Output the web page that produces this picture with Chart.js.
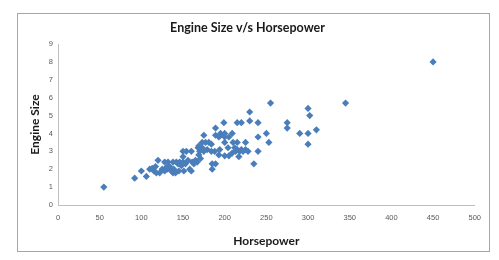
<!DOCTYPE html>
<html>
<head>
<meta charset="utf-8">
<script src="https://cdn.jsdelivr.net/npm/chart.js@4/dist/chart.umd.min.js"></script>
<style>
  html, body { margin: 0; padding: 0; background: #ffffff; }
  #box { position: absolute; left: 17px; top: 13px; width: 471px; height: 237px; border: 1px solid #a6a6a6; background: #fff; }
  canvas { display: block; }
</style>
</head>
<body>
<div id="box"><canvas id="c" width="471" height="237"></canvas></div>
<script>
const chartTitle = "Engine Size v/s Horsepower";
const xTitle = "Horsepower";
const yTitle = "Engine Size";
const xTicks = [0, 50, 100, 150, 200, 250, 300, 350, 400, 450, 500];
const yTicks = [0, 1, 2, 3, 4, 5, 6, 7, 8, 9];

const horsepower = [
  55, 92, 100, 106, 110, 113, 115, 117, 120, 122, 125, 128, 131, 134, 136, 139, 141, 144, 148, 151,
  153, 160, 161, 165, 167, 150, 154, 160, 169, 173, 177, 181, 175, 189, 189, 193, 195, 199, 215, 220,
  209, 185, 185, 189, 200, 205, 200, 210, 215, 184, 168, 173, 204, 194, 184, 170, 175, 200, 205, 209,
  193, 188, 217, 169, 171, 150, 150, 142, 138, 132, 128, 255, 345, 450, 300, 302, 230, 230, 240, 275,
  275, 250, 290, 300, 310, 240, 253, 300, 240, 235, 215, 218, 220, 222, 225, 228, 212, 213, 195, 130,
  118, 145, 156, 179, 200, 225, 163, 158, 138, 146
];
const engineSize = [
  1.0, 1.5, 1.9, 1.6, 2.0, 2.05, 1.9, 2.15, 2.5, 1.8, 2.0, 1.9, 2.0, 2.15, 1.9, 2.0, 1.8, 2.3, 2.2, 1.9,
  2.3, 1.9, 2.4, 2.5, 2.4, 3.0, 3.0, 3.0, 3.3, 3.5, 3.5, 3.5, 3.9, 4.3, 3.9, 3.8, 3.9, 4.6, 4.6, 4.6,
  4.0, 2.3, 2.0, 2.3, 3.8, 3.8, 3.5, 3.5, 3.5, 3.4, 3.2, 3.2, 3.2, 3.1, 3.0, 3.0, 3.0, 2.75, 2.75, 2.9,
  2.8, 3.0, 2.7, 2.8, 2.6, 2.7, 2.4, 2.4, 2.4, 2.4, 2.4, 5.7, 5.7, 8.0, 5.4, 5.0, 5.2, 4.7, 4.6, 4.6,
  4.3, 4.0, 4.0, 4.0, 4.2, 3.8, 3.5, 3.4, 3.0, 2.3, 3.1, 3.0, 3.1, 3.0, 3.1, 3.0, 3.2, 3.0, 4.0, 2.1,
  1.8, 1.9, 2.5, 3.1, 4.0, 3.5, 2.3, 2.0, 1.8, 2.4
];

const points = horsepower.map((h, i) => ({ x: h, y: engineSize[i] }));

new Chart(document.getElementById('c'), {
  type: 'scatter',
  data: {
    datasets: [{
      label: yTitle,
      data: points,
      pointStyle: 'rectRot',
      pointRadius: 3.6,
      pointHoverRadius: 3.6,
      backgroundColor: '#4A7EBB',
      borderColor: '#4A7EBB',
      borderWidth: 0
    }]
  },
  options: {
    responsive: false,
    animation: false,
    layout: { padding: { left: 0, right: 12, top: 0, bottom: 0 } },
    plugins: {
      legend: { display: false },
      tooltip: { enabled: false },
      title: {
        display: true,
        text: chartTitle,
        color: '#1a1a1a',
        font: { family: 'Lato', size: 12.5, weight: 'bold' },
        padding: { top: 6, bottom: 9 }
      }
    },
    scales: {
      x: {
        type: 'linear',
        min: 0, max: 500,
        afterBuildTicks: s => { s.ticks = xTicks.map(v => ({ value: v })); },
        afterFit: s => { s.height = 46; },
        grid: { display: false, drawTicks: false },
        border: { display: true, color: '#bfbfbf', width: 1 },
        ticks: { color: '#595959', font: { family: 'Liberation Sans', size: 7.5 }, padding: 8, maxRotation: 0 },
        title: { display: true, text: xTitle, color: '#1a1a1a', font: { family: 'Lato', size: 12, weight: 'bold' }, padding: { top: 3, bottom: 3 } }
      },
      y: {
        type: 'linear',
        min: 0, max: 9,
        afterBuildTicks: s => { s.ticks = yTicks.map(v => ({ value: v })); },
        afterFit: s => { s.width = 40; },
        grid: { display: false, drawTicks: false },
        border: { display: true, color: '#bfbfbf', width: 1 },
        ticks: { color: '#595959', font: { family: 'Liberation Sans', size: 7.5 }, padding: 5 },
        title: { display: true, text: yTitle, color: '#1a1a1a', font: { family: 'Lato', size: 12, weight: 'bold' }, padding: { top: 10, bottom: 3 } }
      }
    }
  }
});
</script>
</body>
</html>
